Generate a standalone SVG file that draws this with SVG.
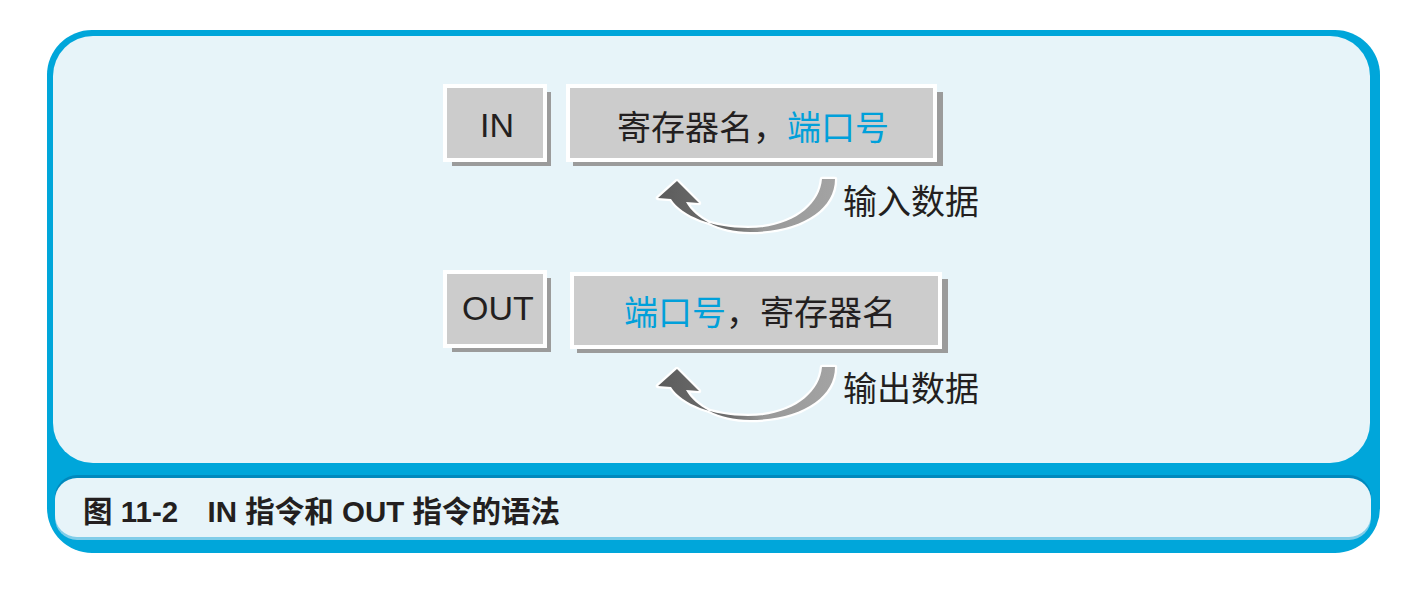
<svg xmlns="http://www.w3.org/2000/svg" xmlns:xlink="http://www.w3.org/1999/xlink" width="1414" height="594" viewBox="0 0 1414 594">
<style>
.shadow{fill:#9b9b9b}
.box{fill:#cccccc;stroke:#ffffff;stroke-width:4}
.lat{font-family:"Liberation Sans",Arial,sans-serif;font-size:34px;fill:#231f20}
.cjk{font-family:"Noto Sans CJK SC",sans-serif;font-size:34px;fill:#231f20}
.blue{fill:#00a0da}
.lbl{font-family:"Noto Sans CJK SC",sans-serif;font-size:34px;fill:#231f20}
.cap{font-family:"Liberation Sans","Noto Sans CJK SC",sans-serif;font-size:29.5px;font-weight:bold;fill:#231f20}
.arrow{fill:url(#ag);stroke:#ffffff;stroke-width:4.5;stroke-linejoin:round;paint-order:stroke fill}
</style>
<defs>
<linearGradient id="ag" x1="0" y1="0" x2="1" y2="0">
<stop offset="0" stop-color="#5c5c5c"/>
<stop offset="0.42" stop-color="#707070"/>
<stop offset="0.6" stop-color="#999999"/>
<stop offset="1" stop-color="#a3a3a3"/>
</linearGradient>
<path id="arr" d="M822,179 L835,179 C835,210 800,232 750,232 C718,232 695,218 686,202 L699,203 L677,181 L658,198 L671,199 C682,216 712,228 748,228 C792,228 820,205 822,179 Z"/>
</defs>
<g id="frame">
<rect x="47" y="30" width="1333" height="523" rx="45" fill="#00a6da"/>
<rect x="53" y="36" width="1317" height="427" rx="40" fill="#e7f4f9"/>
<rect x="55" y="475" width="1316" height="60" rx="22" fill="#0089bd"/>
<rect x="55" y="481" width="1316" height="59" rx="22" fill="#80cde9"/>
<rect x="55" y="478" width="1316" height="59" rx="22" fill="#e7f4f9"/>
</g>
<g id="in-op">
<rect class="shadow" x="452" y="92" width="99" height="74"/>
<rect class="box" x="445" y="86" width="100" height="74"/>
<text class="lat" x="497" y="137" text-anchor="middle">IN</text>
</g>
<g id="in-args">
<rect class="shadow" x="573" y="92" width="370" height="74"/>
<rect class="box" x="568" y="86" width="367" height="74"/>
<text class="cjk" x="753" y="140" text-anchor="middle">寄存器名，<tspan class="blue">端口号</tspan></text>
</g>
<g id="out-op">
<rect class="shadow" x="452" y="278" width="99" height="74"/>
<rect class="box" x="445" y="272" width="100" height="74"/>
<text class="lat" x="498" y="320" text-anchor="middle">OUT</text>
</g>
<g id="out-args">
<rect class="shadow" x="577" y="279" width="371" height="74"/>
<rect class="box" x="572" y="274" width="368" height="73"/>
<text class="cjk" x="760" y="325" text-anchor="middle"><tspan class="blue">端口号</tspan>，寄存器名</text>
</g>
<g id="connectors">
<use xlink:href="#arr" class="arrow"/>
<use xlink:href="#arr" class="arrow" transform="translate(0,188)"/>
</g>
<g id="label-in">
<text class="lbl" x="843" y="214">输入数据</text>
</g>
<g id="label-out">
<text class="lbl" x="843" y="401">输出数据</text>
</g>
<g id="caption">
<text class="cap" x="83" y="522">图 11-2　IN 指令和 OUT 指令的语法</text>
</g>
</svg>
